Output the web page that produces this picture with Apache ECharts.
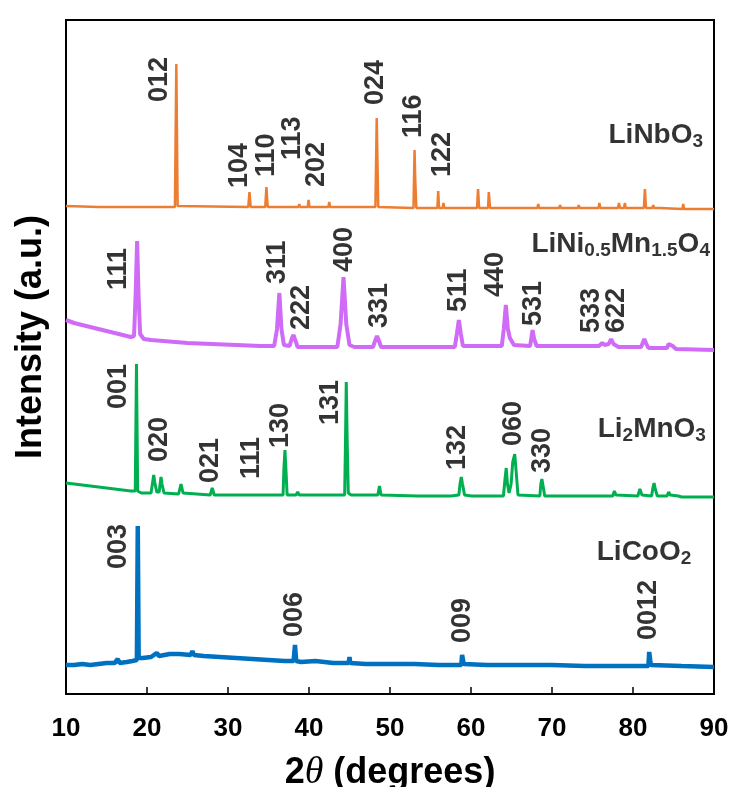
<!DOCTYPE html>
<html>
<head>
<meta charset="utf-8">
<script src="https://cdn.jsdelivr.net/npm/echarts@6/dist/echarts.min.js"></script>
<style>
html,body{margin:0;padding:0;background:#fff;}
#xrd{width:731px;height:787px;}
</style>
</head>
<body>
<div id="xrd"></div>
<script>
// XRD patterns, intensity in arbitrary units (curves stacked with an offset)
var liNbO3 = [
  [10,488],[14,487],[18,487],[23.45,487],[23.62,630],[23.78,488],[23.9,487],
  [32.5,487],[32.65,502],[32.8,487],[34.6,487],[34.74,507],[34.9,487],
  [38.7,487],[38.8,490],[38.9,487],[39.85,487],[39.95,494],[40.05,487],
  [42.4,487],[42.5,492],[42.6,487],[48.2,487],[48.36,576],[48.45,534],[48.55,487],
  [52.9,486],[53.03,544],[53.12,514],[53.25,486],[55.85,486],[55.95,503],[56.05,486],
  [56.5,486],[56.6,491],[56.7,486],[60.75,486],[60.87,505],[61.0,486],
  [62.1,486],[62.2,502],[62.35,486],[68.2,486],[68.3,490],[68.4,486],
  [70.9,486],[71.0,489],[71.1,486],[73.2,486],[73.3,489],[73.4,486],
  [75.75,486],[75.85,491],[75.95,486],[78.15,486],[78.26,491],[78.4,486],
  [78.9,486],[79.0,491],[79.1,486],[81.35,486],[81.47,505],[81.6,486],
  [82.4,486],[82.5,489],[82.6,486],[83.3,486],[83.4,488],[83.5,486],
  [86.1,485],[86.2,490],[86.3,485],[88.5,485],[88.6,487],[88.7,485],[90,485]
];
var liNiMnO = [
  [10,374],[11,371],[12,369],[13,367],[14,365],[15,363],[16,361],[17,359],[18,357],
  [18.4,358],[18.6,400],[18.78,453],[18.95,400],[19.15,360],[19.6,355],[20.5,354],
  [22,353],[25,351],[28,350],[31,349],[34,348],[35.7,348],[36.05,365],[36.34,401],
  [36.6,365],[36.9,349],[37.6,348],[37.9,356],[38.1,359],[38.3,354],[38.6,347],
  [43.5,347],[43.9,370],[44.26,417],[44.6,370],[45.0,349],[45.6,347],[47.9,347],
  [48.2,354],[48.4,358],[48.6,354],[48.9,347],[58.0,347],[58.25,360],[58.5,374],
  [58.75,360],[59.0,348],[63.8,348],[64.05,365],[64.3,389],[64.55,365],[64.8,356],
  [65.0,354],[65.3,349],[67.3,348],[67.45,356],[67.6,364],[67.8,355],[68.1,348],
  [75.8,348],[76.0,350],[76.2,351],[76.5,349],[77.0,350],[77.3,355],[77.6,350],
  [78.2,347],[81.0,347],[81.2,351],[81.4,355],[81.6,351],[81.9,346],[84.2,346],
  [84.4,350],[84.6,352],[84.9,348],[85.3,345],[90,344]
];
var li2MnO3 = [
  [10,211],[12,209],[14,207],[16,205],[18,203],[18.55,203],[18.7,330],[18.85,203],
  [19.3,201],[20.5,201],[20.7,212],[20.83,219],[20.95,212],[21.2,202],[21.5,202],
  [21.65,212],[21.73,217],[21.85,210],[22.1,201],[23.9,200],[24.2,210],[24.45,201],
  [27.8,199],[28.05,206],[28.3,199],[32.6,199],[32.77,201],[32.95,199],[36.8,199],
  [36.9,225],[37.03,244],[37.15,225],[37.3,199],[37.6,199],[37.8,201],[38.0,199],
  [38.4,199],[38.6,202],[38.8,199],[44.4,199],[44.5,250],[44.6,312],[44.72,250],
  [44.85,201],[45.2,199],[48.5,199],[48.7,208],[48.9,199],[53.4,198],[53.6,200],
  [53.8,198],[57.1,198],[57.3,200],[57.5,198],[58.5,199],[58.65,210],[58.8,217],
  [58.95,210],[59.2,199],[60.1,198],[60.3,200],[60.5,198],[64.0,198],[64.2,215],
  [64.35,226],[64.5,210],[64.7,201],[64.95,210],[65.15,232],[65.4,240],[65.55,225],
  [65.8,199],[68.5,198],[68.62,210],[68.75,215],[68.9,208],[69.1,198],[77.5,198],
  [77.7,203],[77.9,199],[80.6,198],[80.85,205],[81.1,199],[82.3,198],[82.45,206],
  [82.6,211],[82.75,205],[83.0,198],[84.2,198],[84.4,202],[84.6,199],[85.6,198],
  [85.8,199],[86.0,197],[90,197]
];
var liCoO2 = [
  [10,29],[11,29],[12,30],[13,29],[14,30],[15,31],[16,31],[16.4,35],[16.6,31],
  [17.5,32],[18.2,33],[18.75,34],[18.86,168],[18.97,36],[19.5,36],[20.5,37],
  [21.2,41],[21.5,38],[22.8,40],[24,40],[25.4,39],[25.6,43],[25.8,39],[27,38],
  [29,37],[31,36],[33,35],[35,34],[37,33],[38.1,33],[38.27,49],[38.42,33],[39,32],
  [40.8,33],[40.9,35],[41,32],[43,31],[44.9,31],[45.0,37],[45.1,31],[47,30],
  [50,30],[53,30],[56,29],[58.8,29],[58.9,39],[59.1,30],[62,29],[66,29],[70,29],
  [74,28],[78,28],[81.9,28],[82.0,42],[82.2,29],[86,28],[90,27]
];

// Miller index labels: [2theta, intensity at start of text, hkl]
var nbHkl = [[21.57,592,'012'],[31.4,506,'104'],[34.7,517,'110'],[37.97,534,'113'],
  [40.93,507,'202'],[48.2,589,'024'],[52.87,556,'116'],[56.5,517,'122']];
var mnHkl = [[16.44,404,'111'],[36.13,410,'311'],[39.1,364,'222'],[44.34,422,'400'],
  [48.65,366,'331'],[58.5,382,'511'],[63.0,397,'440'],[67.7,368,'531'],
  [74.9,361,'533'],[77.97,361,'622']];
var moHkl = [[16.44,285,'001'],[21.5,232,'020'],[27.9,211,'021'],[32.85,215,'111'],
  [36.5,246,'130'],[42.7,269,'131'],[58.4,224,'132'],[65.3,248,'060'],[68.8,221,'330']];
var coHkl = [[16.44,125,'003'],[38.18,57,'006'],[58.9,51,'009'],[81.96,54,'0012']];

// sample names: [2theta, intensity, rich text]
var sampleNames = [
  [88.65,559,'LiNbO{s|3}'],
  [89.5,450,'LiNi{s|0.5}Mn{s|1.5}O{s|4}'],
  [89.0,265,'Li{s|2}MnO{s|3}'],
  [87.2,142,'LiCoO{s|2}']
];

var xTicks = [10,20,30,40,50,60,70,80,90];

var myChart = echarts.init(document.getElementById('xrd'));

function hklSeries(list) {
  return {
    type: 'scatter',
    symbolSize: 0,
    silent: true,
    z: 5,
    data: list.map(function (d) { return { name: d[2], value: [d[0], d[1]] }; }),
    label: {
      show: true,
      position: 'inside',
      formatter: '{b}',
      rotate: 90,
      align: 'left',
      verticalAlign: 'middle',
      color: '#000',
      fontFamily: 'Liberation Sans',
      fontWeight: 'bold',
      fontSize: 27
    }
  };
}

function lineSeries(name, data, color, width) {
  return {
    name: name,
    type: 'line',
    data: data,
    symbol: 'none',
    smooth: false,
    lineStyle: { color: color, width: width },
    itemStyle: { color: color }
  };
}

option = {
  animation: false,
  grid: {
    left: 66,
    right: 17,
    top: 20,
    bottom: 93,
    outerBoundsMode: 'none',
    show: true,
    borderColor: '#000',
    borderWidth: 2
  },
  xAxis: {
    type: 'value',
    min: 10,
    max: 90,
    interval: 10,
    name: '{n|2}{t|θ}{n| (degrees)}',
    nameLocation: 'middle',
    nameGap: 60,
    nameTextStyle: {
      rich: {
        n: { fontFamily: 'Liberation Sans', fontWeight: 'bold', fontSize: 36, color: '#000' },
        t: { fontFamily: 'Liberation Serif', fontStyle: 'italic', fontSize: 38, color: '#000' }
      }
    },
    axisLine: { lineStyle: { color: '#000', width: 2 } },
    axisTick: { inside: true, length: 7, lineStyle: { color: '#000', width: 1.5 } },
    axisLabel: {
      margin: 22,
      color: '#000',
      fontFamily: "'Liberation Sans Narrow', 'Liberation Sans'",
      fontWeight: 'bold',
      fontSize: 26,
      formatter: function (v) { return xTicks.indexOf(v) >= 0 ? String(v) : ''; }
    },
    splitLine: { show: false }
  },
  yAxis: {
    type: 'value',
    min: 0,
    max: 674,
    name: 'Intensity (a.u.)',
    nameLocation: 'middle',
    nameGap: 17,
    nameTextStyle: {
      color: '#000',
      fontFamily: 'Liberation Sans',
      fontWeight: 'bold',
      fontSize: 36,
      padding: [0, 0, 0, 40]
    },
    axisLine: { show: true, lineStyle: { color: '#000', width: 2 } },
    axisTick: { show: false },
    axisLabel: { show: false },
    splitLine: { show: false }
  },
  series: [
    lineSeries('LiCoO2', liCoO2, '#0070C0', 4.5),
    lineSeries('Li2MnO3', li2MnO3, '#00B050', 3),
    lineSeries('LiNi0.5Mn1.5O4', liNiMnO, '#CF6BF7', 4),
    lineSeries('LiNbO3', liNbO3, '#ED7D31', 2.5),
    hklSeries(nbHkl),
    hklSeries(mnHkl),
    hklSeries(moHkl),
    hklSeries(coHkl),
    {
      type: 'scatter',
      symbolSize: 0,
      silent: true,
      z: 5,
      data: sampleNames.map(function (d) { return { name: d[2], value: [d[0], d[1]] }; }),
      label: {
        show: true,
        position: 'inside',
        formatter: '{b}',
        align: 'right',
        verticalAlign: 'middle',
        color: '#000',
        fontFamily: 'Liberation Sans',
        fontWeight: 'bold',
        fontSize: 28,
        rich: {
          s: {
            color: '#000',
            fontFamily: 'Liberation Sans',
            fontWeight: 'bold',
            fontSize: 19,
            padding: [14, 0, 0, 0]
          }
        }
      }
    }
  ]
};
myChart.setOption(option);
</script>
</body>
</html>
